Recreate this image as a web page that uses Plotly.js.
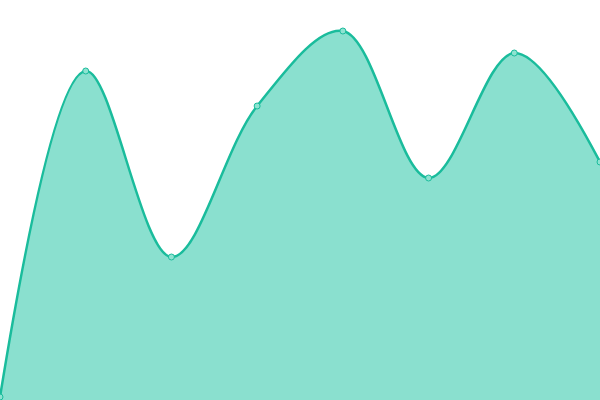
<!DOCTYPE html>
<html>
<head>
<meta charset="utf-8">
<script src="https://cdn.plot.ly/plotly-3.0.1.min.js"></script>
<style>
  html, body { margin: 0; padding: 0; background: #fff; }
  #chart { width: 600px; height: 400px; }
</style>
</head>
<body>
<div id="chart"></div>
<script>
const xValues = [0, 1, 2, 3, 4, 5, 6, 7];
const yValues = [3, 329, 143, 294, 369, 222, 347, 238];

const lineColor = '#1abc9c';

Plotly.newPlot('chart', [{
    x: xValues,
    y: yValues,
    type: 'scatter',
    mode: 'lines+markers',
    fill: 'tozeroy',
    fillcolor: '#8ae0cf',
    line: { color: lineColor, width: 2.5, shape: 'spline', smoothing: 1 },
    marker: { size: 6, color: '#8ee3d1', line: { color: lineColor, width: 1 } },
    hoverinfo: 'none'
}], {
    paper_bgcolor: '#fff',
    plot_bgcolor: '#fff',
    margin: { t: 0, l: 0, r: 0, b: 0 },
    width: 600,
    height: 400,
    showlegend: false,
    xaxis: { range: [0, 7], visible: false, fixedrange: true },
    yaxis: { range: [0, 400], visible: false, fixedrange: true }
}, { displayModeBar: false, staticPlot: true });
</script>
</body>
</html>
